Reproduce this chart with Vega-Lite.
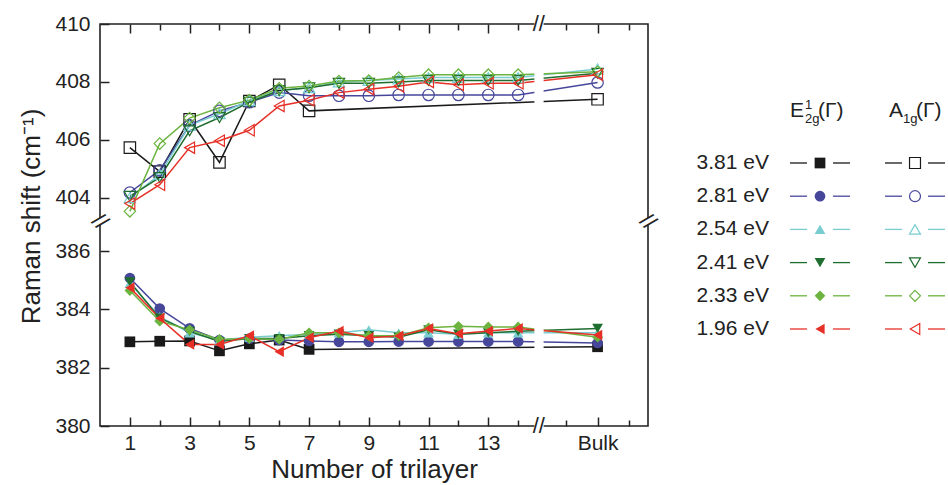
{
 "$schema": "https://vega.github.io/schema/vega-lite/v6.json",
 "padding": {"left": 18, "top": 12, "right": 0, "bottom": 0},
 "spacing": 4,
 "config": {"font": "Liberation Sans", "view": {"stroke": null}, "text": {"font": "Liberation Sans", "color": "#222"},
            "axis": {"labelOverlap": false, "labelFlush": false}},
 "datasets": {
  "e2g": [
   {"e":"3.81 eV","n":1,"v":382.89},{"e":"3.81 eV","n":2,"v":382.91},{"e":"3.81 eV","n":3,"v":382.92},{"e":"3.81 eV","n":4,"v":382.58},{"e":"3.81 eV","n":5,"v":382.82},{"e":"3.81 eV","n":6,"v":382.95},{"e":"3.81 eV","n":7,"v":382.63},{"e":"3.81 eV","n":17,"v":382.72},
   {"e":"2.81 eV","n":1,"v":385.08},{"e":"2.81 eV","n":2,"v":384.03},{"e":"2.81 eV","n":3,"v":383.35},{"e":"2.81 eV","n":4,"v":382.95},{"e":"2.81 eV","n":5,"v":383.0},{"e":"2.81 eV","n":6,"v":382.95},{"e":"2.81 eV","n":7,"v":382.92},{"e":"2.81 eV","n":8,"v":382.89},{"e":"2.81 eV","n":9,"v":382.89},{"e":"2.81 eV","n":10,"v":382.9},{"e":"2.81 eV","n":11,"v":382.9},{"e":"2.81 eV","n":12,"v":382.9},{"e":"2.81 eV","n":13,"v":382.9},{"e":"2.81 eV","n":14,"v":382.9},{"e":"2.81 eV","n":17,"v":382.85},
   {"e":"2.54 eV","n":1,"v":384.9},{"e":"2.54 eV","n":2,"v":383.75},{"e":"2.54 eV","n":3,"v":383.2},{"e":"2.54 eV","n":4,"v":382.95},{"e":"2.54 eV","n":5,"v":383.05},{"e":"2.54 eV","n":6,"v":383.1},{"e":"2.54 eV","n":7,"v":383.15},{"e":"2.54 eV","n":8,"v":383.2},{"e":"2.54 eV","n":9,"v":383.3},{"e":"2.54 eV","n":10,"v":383.2},{"e":"2.54 eV","n":11,"v":383.2},{"e":"2.54 eV","n":12,"v":383.15},{"e":"2.54 eV","n":13,"v":383.2},{"e":"2.54 eV","n":14,"v":383.2},{"e":"2.54 eV","n":17,"v":383.2},
   {"e":"2.41 eV","n":1,"v":384.95},{"e":"2.41 eV","n":2,"v":383.7},{"e":"2.41 eV","n":3,"v":383.25},{"e":"2.41 eV","n":4,"v":382.9},{"e":"2.41 eV","n":5,"v":383.0},{"e":"2.41 eV","n":6,"v":383.0},{"e":"2.41 eV","n":7,"v":383.1},{"e":"2.41 eV","n":8,"v":383.15},{"e":"2.41 eV","n":9,"v":383.1},{"e":"2.41 eV","n":10,"v":383.05},{"e":"2.41 eV","n":11,"v":383.3},{"e":"2.41 eV","n":12,"v":383.15},{"e":"2.41 eV","n":13,"v":383.2},{"e":"2.41 eV","n":14,"v":383.25},{"e":"2.41 eV","n":17,"v":383.35},
   {"e":"2.33 eV","n":1,"v":384.65},{"e":"2.33 eV","n":2,"v":383.6},{"e":"2.33 eV","n":3,"v":383.3},{"e":"2.33 eV","n":4,"v":382.97},{"e":"2.33 eV","n":5,"v":383.0},{"e":"2.33 eV","n":6,"v":382.97},{"e":"2.33 eV","n":7,"v":383.2},{"e":"2.33 eV","n":8,"v":383.2},{"e":"2.33 eV","n":9,"v":383.1},{"e":"2.33 eV","n":10,"v":383.1},{"e":"2.33 eV","n":11,"v":383.37},{"e":"2.33 eV","n":12,"v":383.42},{"e":"2.33 eV","n":13,"v":383.4},{"e":"2.33 eV","n":14,"v":383.4},{"e":"2.33 eV","n":17,"v":383.05},
   {"e":"1.96 eV","n":1,"v":384.75},{"e":"1.96 eV","n":2,"v":383.7},{"e":"1.96 eV","n":3,"v":382.8},{"e":"1.96 eV","n":4,"v":382.8},{"e":"1.96 eV","n":5,"v":383.1},{"e":"1.96 eV","n":6,"v":382.55},{"e":"1.96 eV","n":7,"v":383.03},{"e":"1.96 eV","n":8,"v":383.26},{"e":"1.96 eV","n":9,"v":383.03},{"e":"1.96 eV","n":10,"v":383.09},{"e":"1.96 eV","n":11,"v":383.35},{"e":"1.96 eV","n":12,"v":383.17},{"e":"1.96 eV","n":13,"v":383.26},{"e":"1.96 eV","n":14,"v":383.35},{"e":"1.96 eV","n":17,"v":383.12}
  ],
  "a1g": [
   {"e":"3.81 eV","n":1,"v":405.73},{"e":"3.81 eV","n":2,"v":404.9},{"e":"3.81 eV","n":3,"v":406.71},{"e":"3.81 eV","n":4,"v":405.22},{"e":"3.81 eV","n":5,"v":407.34},{"e":"3.81 eV","n":6,"v":407.9},{"e":"3.81 eV","n":7,"v":407.0},{"e":"3.81 eV","n":17,"v":407.4},
   {"e":"2.81 eV","n":1,"v":404.18},{"e":"2.81 eV","n":2,"v":404.95},{"e":"2.81 eV","n":3,"v":406.5},{"e":"2.81 eV","n":4,"v":407.0},{"e":"2.81 eV","n":5,"v":407.3},{"e":"2.81 eV","n":6,"v":407.63},{"e":"2.81 eV","n":7,"v":407.52},{"e":"2.81 eV","n":8,"v":407.52},{"e":"2.81 eV","n":9,"v":407.52},{"e":"2.81 eV","n":10,"v":407.55},{"e":"2.81 eV","n":11,"v":407.55},{"e":"2.81 eV","n":12,"v":407.55},{"e":"2.81 eV","n":13,"v":407.55},{"e":"2.81 eV","n":14,"v":407.55},{"e":"2.81 eV","n":17,"v":407.98},
   {"e":"2.54 eV","n":1,"v":404.0},{"e":"2.54 eV","n":2,"v":404.8},{"e":"2.54 eV","n":3,"v":406.5},{"e":"2.54 eV","n":4,"v":406.9},{"e":"2.54 eV","n":5,"v":407.35},{"e":"2.54 eV","n":6,"v":407.7},{"e":"2.54 eV","n":7,"v":407.8},{"e":"2.54 eV","n":8,"v":408.0},{"e":"2.54 eV","n":9,"v":408.05},{"e":"2.54 eV","n":10,"v":408.1},{"e":"2.54 eV","n":11,"v":408.15},{"e":"2.54 eV","n":12,"v":408.15},{"e":"2.54 eV","n":13,"v":408.15},{"e":"2.54 eV","n":14,"v":408.15},{"e":"2.54 eV","n":17,"v":408.45},
   {"e":"2.41 eV","n":1,"v":404.05},{"e":"2.41 eV","n":2,"v":404.7},{"e":"2.41 eV","n":3,"v":406.31},{"e":"2.41 eV","n":4,"v":406.77},{"e":"2.41 eV","n":5,"v":407.3},{"e":"2.41 eV","n":6,"v":407.7},{"e":"2.41 eV","n":7,"v":407.8},{"e":"2.41 eV","n":8,"v":407.95},{"e":"2.41 eV","n":9,"v":407.95},{"e":"2.41 eV","n":10,"v":408.0},{"e":"2.41 eV","n":11,"v":408.05},{"e":"2.41 eV","n":12,"v":408.05},{"e":"2.41 eV","n":13,"v":408.05},{"e":"2.41 eV","n":14,"v":408.05},{"e":"2.41 eV","n":17,"v":408.3},
   {"e":"2.33 eV","n":1,"v":403.53},{"e":"2.33 eV","n":2,"v":405.87},{"e":"2.33 eV","n":3,"v":406.75},{"e":"2.33 eV","n":4,"v":407.11},{"e":"2.33 eV","n":5,"v":407.37},{"e":"2.33 eV","n":6,"v":407.78},{"e":"2.33 eV","n":7,"v":407.86},{"e":"2.33 eV","n":8,"v":408.03},{"e":"2.33 eV","n":9,"v":408.05},{"e":"2.33 eV","n":10,"v":408.15},{"e":"2.33 eV","n":11,"v":408.25},{"e":"2.33 eV","n":12,"v":408.25},{"e":"2.33 eV","n":13,"v":408.25},{"e":"2.33 eV","n":14,"v":408.25},{"e":"2.33 eV","n":17,"v":408.35},
   {"e":"1.96 eV","n":1,"v":403.8},{"e":"1.96 eV","n":2,"v":404.45},{"e":"1.96 eV","n":3,"v":405.73},{"e":"1.96 eV","n":4,"v":405.97},{"e":"1.96 eV","n":5,"v":406.33},{"e":"1.96 eV","n":6,"v":407.17},{"e":"1.96 eV","n":7,"v":407.37},{"e":"1.96 eV","n":8,"v":407.63},{"e":"1.96 eV","n":9,"v":407.75},{"e":"1.96 eV","n":10,"v":407.85},{"e":"1.96 eV","n":11,"v":408.0},{"e":"1.96 eV","n":12,"v":407.9},{"e":"1.96 eV","n":13,"v":407.95},{"e":"1.96 eV","n":14,"v":407.95},{"e":"1.96 eV","n":17,"v":408.25}
  ],
  "leg": [
   {"e":"3.81 eV","m":"E2g"},{"e":"2.81 eV","m":"E2g"},{"e":"2.54 eV","m":"E2g"},{"e":"2.41 eV","m":"E2g"},{"e":"2.33 eV","m":"E2g"},{"e":"1.96 eV","m":"E2g"},
   {"e":"3.81 eV","m":"A1g"},{"e":"2.81 eV","m":"A1g"},{"e":"2.54 eV","m":"A1g"},{"e":"2.41 eV","m":"A1g"},{"e":"2.33 eV","m":"A1g"},{"e":"1.96 eV","m":"A1g"}
  ]
 },
 "hconcat": [
  {
   "width": 548, "height": 402,
   "view": {"stroke": "#222", "strokeWidth": 1.6},
   "resolve": {"axis": {"x": "independent"}},
   "layer": [
    {"data": {"name": "a1g"}, "mark": {"type": "line", "strokeWidth": 1.5},
     "encoding": {
      "x": {"field": "n", "type": "quantitative",
            "scale": {"domain": [0, 14.53, 15.3, 18.6], "range": [0, 434, 444, 548], "nice": false, "zero": false},
            "axis": {"orient": "top", "values": [1,2,3,4,5,6,7,8,9,10,11,12,13,14,16,17,18], "labels": false, "domain": false, "grid": false, "title": null,
                     "tickSize": {"condition": {"test": "datum.value % 2 == 1", "value": -9}, "value": -6}, "tickColor": "#222", "tickWidth": 1.5}},
      "y": {"field": "v", "type": "quantitative",
            "scale": {"domain": [380, 386.9, 403.3, 410], "range": [402, 201, 194, 0], "nice": false, "zero": false},
            "axis": {"values": [380,381,382,383,384,385,386,395,404,405,406,407,408,409,410],
                     "labelExpr": "(datum.value % 2 == 0 && datum.value != 395) ? ('' + datum.value) : ''",
                     "domain": false, "grid": false, "labelOverlap": false, "labelFlush": false,
                     "tickSize": {"condition": {"test": "datum.value % 2 == 0", "value": -9}, "value": -6},
                     "tickColor": "#222", "tickWidth": 1.5,
                     "labelFontSize": 21, "labelColor": "#222", "labelPadding": 19,
                     "title": "Raman shift (cm⁻¹)", "titleFontSize": 26, "titleFontWeight": "normal", "titleColor": "#222", "titlePadding": 10, "titleY": 192}},
      "color": {"field": "e", "type": "nominal", "legend": null,
                "scale": {"domain": ["3.81 eV","2.81 eV","2.54 eV","2.41 eV","2.33 eV","1.96 eV"], "range": ["#1a1a1a","#46479b","#79cdd0","#1f6d2f","#6cb43f","#e63027"]}}
     }},
    {"data": {"name": "e2g"}, "mark": {"type": "line", "strokeWidth": 1.5},
     "encoding": {
      "x": {"field": "n", "type": "quantitative",
            "scale": {"domain": [0, 14.53, 15.3, 18.6], "range": [0, 434, 444, 548], "nice": false, "zero": false},
            "axis": {"orient": "bottom", "values": [1,2,3,4,5,6,7,8,9,10,11,12,13,14,16,17,18],
                     "labelExpr": "datum.value == 17 ? 'Bulk' : (datum.value % 2 == 1 && datum.value < 14 ? datum.label : '')",
                     "domain": false, "grid": false, "labelOverlap": false, "labelFlush": false,
                     "tickSize": {"condition": {"test": "datum.value % 2 == 1", "value": -9}, "value": -6},
                     "tickColor": "#222", "tickWidth": 1.5,
                     "labelFontSize": 21, "labelColor": "#222", "labelPadding": 15,
                     "title": "Number of trilayer", "titleFontSize": 26, "titleFontWeight": "normal", "titleColor": "#222", "titlePadding": 0}},
      "y": {"field": "v", "type": "quantitative"},
      "color": {"field": "e", "type": "nominal", "legend": null}
     }},
    {"data": {"values": [{}]}, "mark": {"type": "rect", "color": "white", "clip": false},
     "encoding": {"x": {"datum": 14.56, "type": "quantitative", "axis": null}, "x2": {"datum": 15.27},
                  "y": {"datum": 379.85, "type": "quantitative"}, "y2": {"datum": 410.15}}},
    {"data": {"values": [{}]}, "mark": {"type": "rect", "color": "white", "clip": false},
     "encoding": {"x": {"datum": -0.15, "type": "quantitative", "axis": null}, "x2": {"datum": 18.7},
                  "y": {"datum": 386.93, "type": "quantitative"}, "y2": {"datum": 403.27}}},
    {"data": {"name": "e2g"}, "mark": {"type": "point", "filled": true, "size": 115, "opacity": 1},
     "encoding": {
      "x": {"field": "n", "type": "quantitative", "axis": null},
      "y": {"field": "v", "type": "quantitative"},
      "color": {"field": "e", "type": "nominal", "legend": null},
      "shape": {"field": "e", "type": "nominal", "legend": null,
                "scale": {"domain": ["3.81 eV","2.81 eV","2.54 eV","2.41 eV","2.33 eV","1.96 eV"], "range": ["square","circle","triangle-up","triangle-down","diamond","triangle-left"]}}
     }},
    {"data": {"name": "a1g"}, "mark": {"type": "point", "filled": false, "size": 130, "strokeWidth": 1.2, "opacity": 1},
     "encoding": {
      "x": {"field": "n", "type": "quantitative", "axis": null},
      "y": {"field": "v", "type": "quantitative"},
      "color": {"field": "e", "type": "nominal", "legend": null},
      "shape": {"field": "e", "type": "nominal", "legend": null}
     }},
    {"data": {"values": [{}]}, "mark": {"type": "text", "text": "//", "fontSize": 22, "baseline": "middle", "align": "center"},
     "encoding": {"x": {"datum": 14.9, "type": "quantitative", "axis": null}, "y": {"datum": 410, "type": "quantitative"}}},
    {"data": {"values": [{}]}, "mark": {"type": "text", "text": "//", "fontSize": 22, "baseline": "middle", "align": "center"},
     "encoding": {"x": {"datum": 14.9, "type": "quantitative", "axis": null}, "y": {"datum": 380, "type": "quantitative"}}},
    {"data": {"values": [{}]}, "mark": {"type": "text", "text": "//", "fontSize": 22, "baseline": "middle", "align": "center", "angle": 45},
     "encoding": {"x": {"datum": 0, "type": "quantitative", "axis": null}, "y": {"datum": 395, "type": "quantitative"}}},
    {"data": {"values": [{}]}, "mark": {"type": "text", "text": "//", "fontSize": 22, "baseline": "middle", "align": "center", "angle": 45},
     "encoding": {"x": {"datum": 18.6, "type": "quantitative", "axis": null}, "y": {"datum": 395, "type": "quantitative"}}}
   ]
  },
  {
   "width": 280, "height": 402,
   "view": {"stroke": null},
   "layer": [
    {"data": {"name": "leg"}, "mark": {"type": "rule", "xOffset": -30, "x2Offset": -13, "strokeWidth": 1.3},
     "encoding": {
      "x": {"field": "m", "type": "nominal", "scale": {"type": "point", "domain": ["E2g","A1g"], "range": [155, 250], "padding": 0}, "axis": null},
      "x2": {"field": "m"},
      "y": {"field": "e", "type": "nominal", "scale": {"type": "point", "domain": ["3.81 eV","2.81 eV","2.54 eV","2.41 eV","2.33 eV","1.96 eV"], "range": [139, 305], "padding": 0}, "axis": null},
      "color": {"field": "e", "type": "nominal", "legend": null}
     }},
    {"data": {"name": "leg"}, "mark": {"type": "rule", "xOffset": 13, "x2Offset": 30, "strokeWidth": 1.3},
     "encoding": {
      "x": {"field": "m", "type": "nominal"}, "x2": {"field": "m"},
      "y": {"field": "e", "type": "nominal"},
      "color": {"field": "e", "type": "nominal", "legend": null}
     }},
    {"data": {"name": "leg"}, "transform": [{"filter": "datum.m == 'E2g'"}],
     "mark": {"type": "point", "filled": true, "size": 115, "opacity": 1},
     "encoding": {
      "x": {"field": "m", "type": "nominal"}, "y": {"field": "e", "type": "nominal"},
      "color": {"field": "e", "type": "nominal", "legend": null},
      "shape": {"field": "e", "type": "nominal", "legend": null}
     }},
    {"data": {"name": "leg"}, "transform": [{"filter": "datum.m == 'A1g'"}],
     "mark": {"type": "point", "filled": false, "size": 120, "strokeWidth": 1.2, "opacity": 1},
     "encoding": {
      "x": {"field": "m", "type": "nominal"}, "y": {"field": "e", "type": "nominal"},
      "color": {"field": "e", "type": "nominal", "legend": null},
      "shape": {"field": "e", "type": "nominal", "legend": null}
     }},
    {"data": {"name": "leg"}, "transform": [{"filter": "datum.m == 'E2g'"}],
     "mark": {"type": "text", "align": "right", "baseline": "middle", "dx": -51, "fontSize": 21},
     "encoding": {"x": {"field": "m", "type": "nominal"}, "y": {"field": "e", "type": "nominal"}, "text": {"field": "e"}}},
    {"data": {"values": [{"m": "E2g", "e": "3.81 eV", "t": "E"}]}, "mark": {"type": "text", "align": "left", "baseline": "middle", "dx": -30, "dy": -52, "fontSize": 21},
     "encoding": {"x": {"field": "m", "type": "nominal"}, "y": {"field": "e", "type": "nominal"}, "text": {"field": "t"}}},
    {"data": {"values": [{"m": "E2g", "e": "3.81 eV", "t": "1"}]}, "mark": {"type": "text", "align": "left", "baseline": "middle", "dx": -15, "dy": -58, "fontSize": 13},
     "encoding": {"x": {"field": "m", "type": "nominal"}, "y": {"field": "e", "type": "nominal"}, "text": {"field": "t"}}},
    {"data": {"values": [{"m": "E2g", "e": "3.81 eV", "t": "2g"}]}, "mark": {"type": "text", "align": "left", "baseline": "middle", "dx": -15, "dy": -44, "fontSize": 13},
     "encoding": {"x": {"field": "m", "type": "nominal"}, "y": {"field": "e", "type": "nominal"}, "text": {"field": "t"}}},
    {"data": {"values": [{"m": "E2g", "e": "3.81 eV", "t": "(Γ)"}]}, "mark": {"type": "text", "align": "left", "baseline": "middle", "dx": -2, "dy": -52, "fontSize": 21},
     "encoding": {"x": {"field": "m", "type": "nominal"}, "y": {"field": "e", "type": "nominal"}, "text": {"field": "t"}}},
    {"data": {"values": [{"m": "A1g", "e": "3.81 eV", "t": "A"}]}, "mark": {"type": "text", "align": "left", "baseline": "middle", "dx": -26, "dy": -52, "fontSize": 21},
     "encoding": {"x": {"field": "m", "type": "nominal"}, "y": {"field": "e", "type": "nominal"}, "text": {"field": "t"}}},
    {"data": {"values": [{"m": "A1g", "e": "3.81 eV", "t": "1g"}]}, "mark": {"type": "text", "align": "left", "baseline": "middle", "dx": -12, "dy": -44, "fontSize": 13},
     "encoding": {"x": {"field": "m", "type": "nominal"}, "y": {"field": "e", "type": "nominal"}, "text": {"field": "t"}}},
    {"data": {"values": [{"m": "A1g", "e": "3.81 eV", "t": "(Γ)"}]}, "mark": {"type": "text", "align": "left", "baseline": "middle", "dx": 1, "dy": -52, "fontSize": 21},
     "encoding": {"x": {"field": "m", "type": "nominal"}, "y": {"field": "e", "type": "nominal"}, "text": {"field": "t"}}}
   ]
  }
 ]
}
